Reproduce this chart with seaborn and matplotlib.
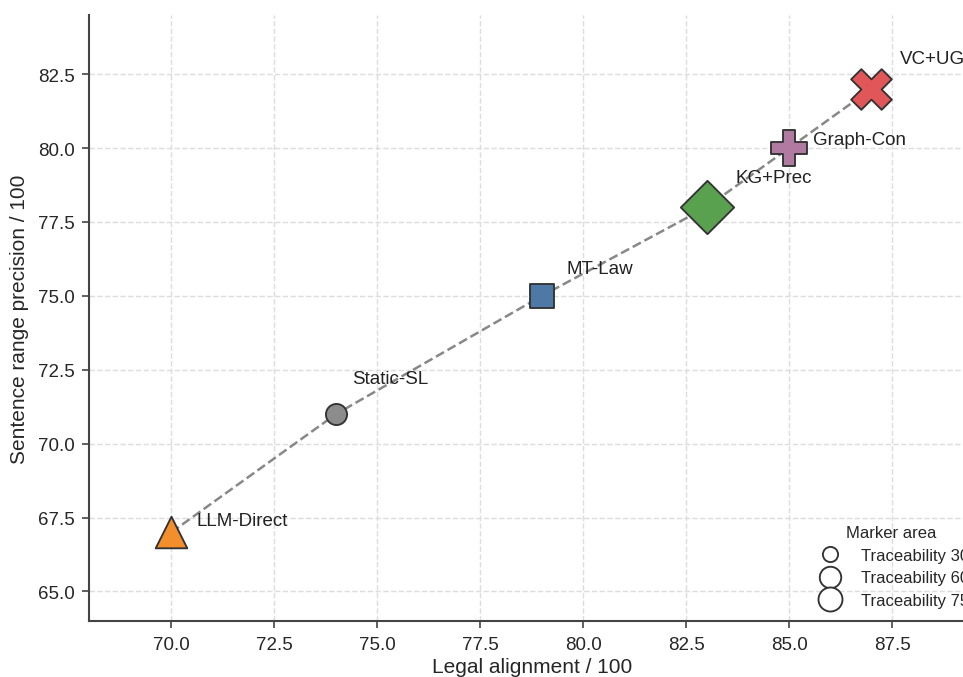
import pandas as pd
import matplotlib.pyplot as plt
import seaborn as sns
from matplotlib.lines import Line2D

# Methods and their scores
methods = ["LLM-Direct", "Static-SL", "MT-Law", "KG+Prec", "Graph-Con", "VC+UG"]
legal_alignment = [70, 74, 79, 83, 85, 87]
sentence_precision = [67, 71, 75, 78, 80, 82]
traceability = [130, 58, 75, 185, 175, 215]

legend_trace = [30, 60, 75]

colors = {
    "LLM-Direct": "#F28E2B",
    "Static-SL": "#8C8C8C",
    "MT-Law": "#4E79A7",
    "KG+Prec": "#59A14F",
    "Graph-Con": "#B07AA1",
    "VC+UG": "#E15759",
}
markers = {
    "LLM-Direct": "^",
    "Static-SL": "o",
    "MT-Law": "s",
    "KG+Prec": "D",
    "Graph-Con": "P",
    "VC+UG": "X",
}
# label offsets in points
offsets = {
    "LLM-Direct": (12, 5.8),
    "Static-SL": (7.7, 17),
    "MT-Law": (11.6, 13),
    "KG+Prec": (14, 14.2),
    "Graph-Con": (11.5, 4.3),
    "VC+UG": (13.7, 14.4),
}

AREA_SCALE = 1.77

df = pd.DataFrame({
    "method": methods,
    "x": legal_alignment,
    "y": sentence_precision,
    "trace": traceability,
})

sns.set_style("ticks")
plt.rcParams["font.family"] = ["Liberation Sans", "DejaVu Sans"]

fig = plt.figure(figsize=(963 / 150, 678 / 150), dpi=150)
ax = fig.add_axes([0.0924, 0.0826, 0.9194, 0.8938])

ax.grid(True, linestyle="--", color="#dddddd", linewidth=0.7)
ax.set_axisbelow(True)

sns.lineplot(data=df, x="x", y="y", ax=ax, color="#888888", linestyle="--",
             linewidth=1.2, zorder=2)

for _, row in df.iterrows():
    sns.scatterplot(x=[row["x"]], y=[row["y"]], ax=ax, s=row["trace"] * AREA_SCALE,
                    marker=markers[row["method"]], color=colors[row["method"]],
                    edgecolor="#333333", linewidth=0.9, zorder=3, legend=False)
    ax.annotate(row["method"], (row["x"], row["y"]), xytext=offsets[row["method"]],
                textcoords="offset points", fontsize=9, color="#222222", va="center")

ax.set_xlim(68, 89.5)
ax.set_ylim(64, 84.5)
ax.set_xticks([70, 72.5, 75, 77.5, 80, 82.5, 85, 87.5])
ax.set_yticks([65, 67.5, 70, 72.5, 75, 77.5, 80, 82.5])
ax.xaxis.set_major_formatter(plt.FormatStrFormatter("%.1f"))
ax.yaxis.set_major_formatter(plt.FormatStrFormatter("%.1f"))
ax.tick_params(labelsize=9, color="#444444", length=3.5)
ax.set_xlabel("Legal alignment / 100", fontsize=10, labelpad=2)
ax.set_ylabel("Sentence range precision / 100", fontsize=10)
sns.despine(ax=ax)
for side in ["left", "bottom"]:
    ax.spines[side].set_color("#444444")
    ax.spines[side].set_linewidth(1.0)

handles = [
    Line2D([], [], linestyle="", marker="o", markersize=(t * AREA_SCALE) ** 0.5,
           markerfacecolor="white", markeredgecolor="#333333", markeredgewidth=0.9,
           label=f"Traceability {t}")
    for t in legend_trace
]
leg = ax.legend(handles=handles, title="Marker area", loc="upper left",
                bbox_to_anchor=(800 / 963, 1 - 513 / 678), bbox_transform=fig.transFigure,
                frameon=False, fontsize=8, title_fontsize=8, labelspacing=0.45,
                handletextpad=0.85, borderpad=0.3)

fig.savefig("out.png", dpi=150)
